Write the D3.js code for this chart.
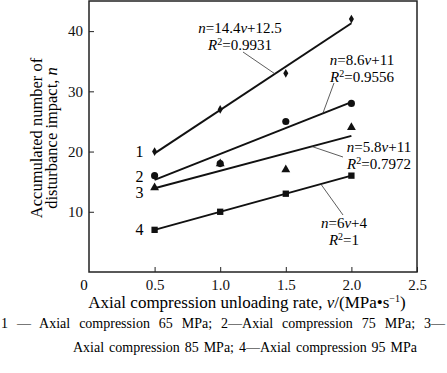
<!DOCTYPE html>
<html>
<head>
<meta charset="utf-8">
<script src="https://cdn.jsdelivr.net/npm/d3@7"></script>
<style>
  body { margin: 0; background: #fff; }
  svg { font-family: "Liberation Serif", "Times New Roman", serif; }
  .tick text { font-size: 15px; fill: #111; font-family: "Liberation Serif", serif; }
  .tick line, .domain { stroke: #222; }
</style>
</head>
<body>
<div id="chart"></div>
<script>
// data
var rates = [0.5, 1.0, 1.5, 2.0];
var n65 = [20, 27, 33, 42];
var n75 = [16, 18, 25, 28];
var n85 = [14, 18, 17, 24];
var n95 = [7, 10, 13, 16];
var fits = [[14.4, 12.5], [8.6, 11], [5.8, 11], [6, 4]];
var r2 = ["0.9931", "0.9556", "0.7972", "1"];
var xTicks = [0.5, 1.0, 1.5, 2.0, 2.5];
var yTicks = [10, 20, 30, 40];
var seriesNames = ["1", "2", "3", "4"];
var symbols = [d3.symbolDiamond, d3.symbolCircle, d3.symbolTriangle, d3.symbolSquare];
var symSize = [22, 40, 34, 40];

var W = 447, H = 373;
var margin = {top: 1, right: 30, bottom: 101, left: 89};
var width = W - margin.left - margin.right,
    height = H - margin.top - margin.bottom;

var svg = d3.select("#chart").append("svg")
    .attr("width", W)
    .attr("height", H);

var g = svg.append("g")
    .attr("transform", "translate(" + margin.left + "," + margin.top + ")");

var x = d3.scaleLinear().domain([0, 2.5]).range([0, width]);
var y = d3.scaleLinear().domain([0, 45]).range([height, 0]);

// frame
g.append("rect")
    .attr("x", 0).attr("y", 0)
    .attr("width", width).attr("height", height)
    .attr("fill", "none")
    .attr("stroke", "#222")
    .attr("stroke-width", 1.5);

g.append("g")
    .attr("transform", "translate(0," + height + ")")
    .call(d3.axisBottom(x).tickValues(xTicks).tickFormat(d3.format(".1f")).tickSize(-5).tickPadding(7))
    .call(a => a.select(".domain").remove());

g.append("g")
    .call(d3.axisLeft(y).tickValues(yTicks).tickSize(-5).tickPadding(6))
    .call(a => a.select(".domain").remove());

g.append("text")
    .attr("x", -5).attr("y", height + 18)
    .attr("text-anchor", "middle")
    .style("font-size", "15px")
    .text("0");

var allSeries = [n65, n75, n85, n95];

// fitted lines
allSeries.forEach(function(vals, i) {
    var f = fits[i];
    var ends = [rates[0], rates[rates.length - 1]];
    g.append("path")
        .datum(ends)
        .attr("fill", "none")
        .attr("stroke", "#111")
        .attr("stroke-width", 2)
        .attr("d", d3.line().x(d => x(d)).y(d => y(f[0] * d + f[1])));
});

// markers
allSeries.forEach(function(vals, i) {
    g.selectAll(".pt" + i)
        .data(vals)
        .enter().append("path")
        .attr("class", "pt" + i)
        .attr("transform", (d, j) => "translate(" + x(rates[j]) + "," + y(d) + ")")
        .attr("d", d3.symbol().type(symbols[i]).size(symSize[i]))
        .attr("fill", "#111");
});

// series numbers on the left
var numY = [20, 15.8, 13.2, 7];
seriesNames.forEach(function(s, i) {
    g.append("text")
        .attr("x", x(rates[0]) - 15)
        .attr("y", y(numY[i]) + 5)
        .attr("text-anchor", "middle")
        .style("font-size", "16px")
        .text(s);
});

// equation labels with leader lines
var labels = [
    {tx: 240, ty: 33, from: [243, 52], to: 1.417},
    {tx: 362, ty: 65, from: [334, 83], to: 1.782},
    {tx: 379, ty: 152, from: [343, 157], to: 1.698},
    {tx: 344, ty: 228, from: [343, 215], to: 1.767}
];
labels.forEach(function(l, i) {
    var f = fits[i];
    var t = svg.append("text")
        .attr("x", l.tx).attr("y", l.ty)
        .attr("text-anchor", "middle")
        .style("font-size", "15px");
    t.append("tspan").style("font-style", "italic").text("n");
    t.append("tspan").text("=" + f[0]);
    t.append("tspan").style("font-style", "italic").text("v");
    t.append("tspan").text("+" + f[1]);

    var t2 = svg.append("text")
        .attr("x", l.tx).attr("y", l.ty + 17)
        .attr("text-anchor", "middle")
        .style("font-size", "15px");
    t2.append("tspan").style("font-style", "italic").text("R");
    t2.append("tspan").attr("dy", -5).style("font-size", "10px").text("2");
    t2.append("tspan").attr("dy", 5).text("=" + r2[i]);

    svg.append("line")
        .attr("x1", l.from[0]).attr("y1", l.from[1])
        .attr("x2", margin.left + x(l.to))
        .attr("y2", margin.top + y(f[0] * l.to + f[1]))
        .attr("stroke", "#333")
        .attr("stroke-width", 0.8);
});

// axis titles
var xt = svg.append("text")
    .attr("x", 247)
    .attr("y", 308)
    .attr("text-anchor", "middle")
    .style("font-size", "17px");
xt.append("tspan").text("Axial compression unloading rate, ");
xt.append("tspan").style("font-style", "italic").text("v");
xt.append("tspan").text("/(MPa\u2022s");
xt.append("tspan").attr("dy", -6).style("font-size", "10px").text("\u22121");
xt.append("tspan").attr("dy", 6).text(")");

var yt = svg.append("g")
    .attr("transform", "translate(42,138) rotate(-90)");
yt.append("text")
    .attr("x", 0).attr("y", 0)
    .attr("text-anchor", "middle")
    .style("font-size", "16.5px")
    .text("Accumulated number of");
var yt2 = yt.append("text")
    .attr("x", 0).attr("y", 15)
    .attr("text-anchor", "middle")
    .style("font-size", "16.5px");
yt2.append("tspan").text("disturbance impact, ");
yt2.append("tspan").style("font-style", "italic").text("n");

// caption, justified by widening word gaps
function justified(str, x0, x1, yy) {
    var t = svg.append("text")
        .attr("x", x0).attr("y", yy)
        .style("font-size", "14px")
        .text(str);
    var natural = t.node().getComputedTextLength();
    var gaps = str.split(" ").length - 1;
    t.style("word-spacing", ((x1 - x0 - natural) / gaps) + "px");
}
justified("1 \u2014 Axial compression 65 MPa; 2\u2014Axial compression 75 MPa; 3\u2014", 1, 445, 328);
justified("Axial compression 85 MPa; 4\u2014Axial compression 95 MPa", 73, 417, 352);
</script>
</body>
</html>
